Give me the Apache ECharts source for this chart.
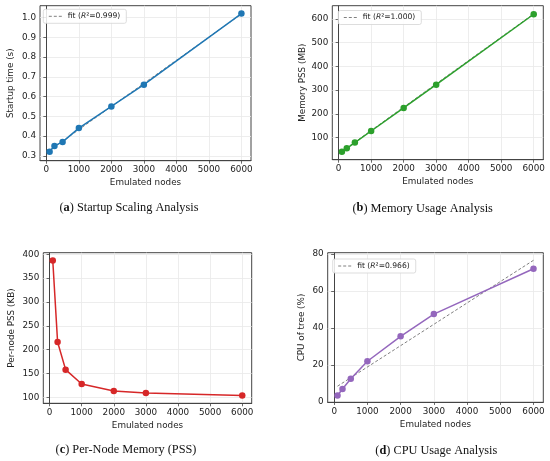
<!DOCTYPE html>
<html>
<head>
<meta charset="utf-8">
<script src="https://cdn.jsdelivr.net/npm/echarts@6/dist/echarts.min.js"></script>
<style>
html,body{margin:0;padding:0;background:#fff;}
#chart{width:550px;height:461px;}
</style>
</head>
<body>
<div id="chart"></div>
<script>
// ---- data ----
const nodes = [100, 250, 500, 1000, 2000, 3000, 6000];
const startupTime = [0.32, 0.35, 0.37, 0.44, 0.55, 0.66, 1.02];
const memoryPSS = [40, 55, 79, 128, 225, 323, 620];
const perNodePSS = [387, 216, 158, 128, 113, 109, 104];
const cpuTree = [3.5, 7, 12.5, 22, 35.5, 47.5, 72];
const fitX = [100, 6000];
const startupFit = [0.327, 1.018];
const memoryFit = [42, 622];
const cpuFit = [8.5, 76.6];
const xTicks = [0, 1000, 2000, 3000, 4000, 5000, 6000];
const startupTicks = [0.3, 0.4, 0.5, 0.6, 0.7, 0.8, 0.9, 1.0];
const memoryTicks = [100, 200, 300, 400, 500, 600];
const perNodeTicks = [100, 150, 200, 250, 300, 350, 400];
const cpuTicks = [0, 20, 40, 60, 80];
const fitLabels = {fitA: '0.999', fitB: '1.000', fitD: '0.966'};

const FONT = 'DejaVu Sans';
const AX = '#444';
const TXT = '#222';
const FS = 8.8;

function pairs(xs, ys) { return xs.map((x, i) => [x, ys[i]]); }

const grids = [
  {left: 40, top: 5.7, width: 211, height: 155},
  {left: 332.3, top: 5.7, width: 211, height: 154},
  {left: 43.3, top: 252.7, width: 208.4, height: 150.6},
  {left: 327.7, top: 252.7, width: 215.6, height: 149.6}
];

function xAxis(i) {
  return {
    type: 'value', gridIndex: i, min: -195, max: 6295,
    name: 'Emulated nodes', nameLocation: 'middle', nameGap: 18,
    nameTextStyle: {fontFamily: FONT, fontSize: FS, color: TXT},
    axisLine: {show: true, lineStyle: {color: AX, width: 1}},
    axisTick: {show: true, length: 3, customValues: xTicks, lineStyle: {color: AX, width: 0.8}},
    axisLabel: {customValues: xTicks, fontFamily: FONT, fontSize: FS, color: TXT, margin: 5,
      formatter: v => String(v)},
    splitLine: {show: true, lineStyle: {color: '#e8e8e8', width: 0.8}}
  };
}
function yAxis(i, min, max, ticks, name, gap, fmt) {
  return {
    type: 'value', gridIndex: i, min: min, max: max,
    name: name, nameLocation: 'middle', nameGap: gap, nameRotate: 90,
    nameTextStyle: {fontFamily: FONT, fontSize: FS, color: TXT},
    axisLine: {show: true, lineStyle: {color: AX, width: 1}},
    axisTick: {show: true, length: 3, customValues: ticks, lineStyle: {color: AX, width: 0.8}},
    axisLabel: {customValues: ticks, fontFamily: FONT, fontSize: FS, color: TXT, margin: 4,
      formatter: fmt || (v => String(v))},
    splitLine: {show: true, lineStyle: {color: '#e8e8e8', width: 0.8}}
  };
}

function dataSeries(i, ys, color) {
  return {
    type: 'line', xAxisIndex: i, yAxisIndex: i, data: pairs(nodes, ys),
    symbol: 'circle', symbolSize: 6.5, color: color, z: 3,
    lineStyle: {color: color, width: 1.5}, itemStyle: {color: color}
  };
}
function fitSeries(i, name, ys) {
  return {
    type: 'line', name: name, xAxisIndex: i, yAxisIndex: i, data: pairs(fitX, ys),
    symbol: 'none', z: 2, color: '#808080',
    lineStyle: {color: '#808080', width: 1, type: [3, 2]}
  };
}
function legend(name, left, top) {
  return {
    data: [name], left: left, top: top, orient: 'horizontal',
    backgroundColor: 'rgba(255,255,255,0.85)', borderColor: '#d4d4d4', borderWidth: 0.8, borderRadius: 2,
    padding: [3, 6, 3, 5], itemWidth: 14, itemHeight: 6, itemGap: 5,
    itemStyle: {opacity: 0},
    lineStyle: {color: '#808080', width: 1, type: [3, 2]},
    textStyle: {fontFamily: FONT, fontSize: 7.6, color: TXT,
      rich: {i: {fontFamily: FONT, fontSize: 7.6, fontStyle: 'italic', color: TXT}}},
    formatter: n => 'fit ({i|R}²=' + fitLabels[n] + ')'
  };
}
function caption(letter, title, x, y) {
  return {
    type: 'text', x: x, y: y,
    style: {
      text: '(' + '{b|' + letter + '}' + ') ' + title,
      fontFamily: 'Liberation Serif', fontSize: 12.3, fill: '#111',
      align: 'center', verticalAlign: 'middle',
      rich: {b: {fontFamily: 'Liberation Serif', fontSize: 12.3, fontWeight: 'bold', fill: '#111'}}
    }
  };
}

const option = {
  animation: false,
  backgroundColor: '#fff',
  grid: grids.map(g => Object.assign({show: true, borderColor: AX, borderWidth: 1, backgroundColor: 'transparent'}, g)),
  xAxis: [0, 1, 2, 3].map(xAxis),
  yAxis: [
    yAxis(0, 0.275, 1.06, startupTicks, 'Startup time (s)', 25, v => v.toFixed(1)),
    yAxis(1, 7, 656, memoryTicks, 'Memory PSS (MB)', 25),
    yAxis(2, 87.4, 403.4, perNodeTicks, 'Per-node PSS (KB)', 27),
    yAxis(3, -0.2, 80.7, cpuTicks, 'CPU of tree (%)', 21)
  ],
  legend: [legend('fitA', 43.3, 9.3), legend('fitB', 338.3, 10.5), legend('fitD', 332.7, 259)],
  series: [
    fitSeries(0, 'fitA', startupFit), dataSeries(0, startupTime, '#1f77b4'),
    fitSeries(1, 'fitB', memoryFit), dataSeries(1, memoryPSS, '#2ca02c'),
    dataSeries(2, perNodePSS, '#d62728'),
    fitSeries(3, 'fitD', cpuFit), dataSeries(3, cpuTree, '#9467bd')
  ],
  graphic: [
    caption('a', 'Startup Scaling Analysis', 129, 207.7),
    caption('b', 'Memory Usage Analysis', 422.7, 208.3),
    caption('c', 'Per-Node Memory (PSS)', 126, 450),
    caption('d', 'CPU Usage Analysis', 436.3, 450.7)
  ]
};

const chart = echarts.init(document.getElementById('chart'), null, {renderer: 'canvas'});
chart.setOption(option);
</script>
</body>
</html>
